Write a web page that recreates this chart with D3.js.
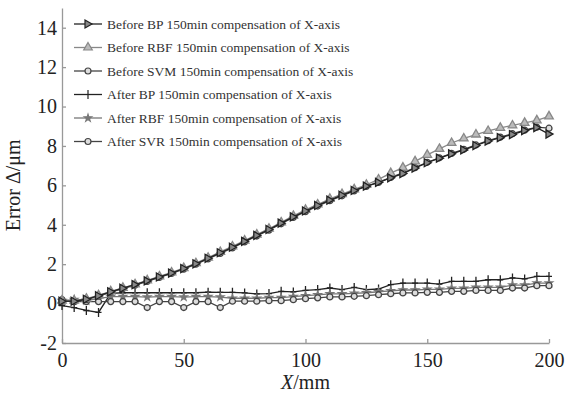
<!DOCTYPE html>
<html lang="en">
<head>
<meta charset="UTF-8">
<title>Error before and after compensation</title>
<script src="https://d3js.org/d3.v7.min.js"></script>
<style>
    body { margin: 0; background: #fff; }
    svg text { font-family: "Liberation Serif", "Times New Roman", serif; }
    .axis path, .axis line { stroke: #999; stroke-width: 1.3px; }
    .axis text { font-size: 20px; fill: #222; }
    .legend text { font-size: 13.5px; fill: #333; }
</style>
</head>
<body>
<div id="chart"></div>
<script>
    // X positions, mm
    const xs = d3.range(0, 201, 5);

    const beforeBP = [0.12, 0.12, 0.22, 0.40, 0.60, 0.78, 0.96, 1.15, 1.35, 1.55, 1.78, 2.02, 2.30, 2.58, 2.86, 3.16, 3.46, 3.76, 4.08, 4.40, 4.70,
        4.98, 5.25, 5.50, 5.74, 5.96, 6.15, 6.38, 6.60, 6.88, 7.15, 7.38, 7.60, 7.80, 8.02, 8.25, 8.42, 8.58, 8.78, 8.93, 8.60];
    const beforeRBF = [0.15, 0.15, 0.25, 0.42, 0.62, 0.80, 0.98, 1.18, 1.38, 1.58, 1.80, 2.05, 2.33, 2.62, 2.90, 3.20, 3.50, 3.80, 4.12, 4.45, 4.76,
        5.03, 5.32, 5.56, 5.80, 6.03, 6.30, 6.62, 6.90, 7.22, 7.55, 7.85, 8.15, 8.38, 8.58, 8.76, 8.92, 9.04, 9.17, 9.30, 9.50];
    const beforeSVM = [0.20, 0.10, 0.20, 0.38, 0.58, 0.76, 0.94, 1.13, 1.33, 1.53, 1.75, 2.00, 2.27, 2.55, 2.83, 3.13, 3.43, 3.73, 4.05, 4.37, 4.67,
        4.95, 5.22, 5.47, 5.72, 5.95, 6.15, 6.40, 6.63, 6.90, 7.17, 7.40, 7.62, 7.83, 8.05, 8.27, 8.45, 8.62, 8.80, 8.95, 8.90];
    const afterBP = [-0.10, -0.20, -0.35, -0.45, 0.52, 0.55, 0.55, 0.55, 0.55, 0.55, 0.55, 0.55, 0.58, 0.57, 0.57, 0.54, 0.49, 0.51, 0.62, 0.59, 0.67,
        0.71, 0.79, 0.71, 0.82, 0.71, 0.74, 0.96, 1.04, 1.04, 1.04, 0.99, 1.13, 1.13, 1.13, 1.21, 1.21, 1.30, 1.25, 1.38, 1.38];
    const afterRBF = [0.15, 0.20, 0.15, 0.25, 0.35, 0.35, 0.35, 0.33, 0.35, 0.35, 0.33, 0.35, 0.35, 0.33, 0.27, 0.27, 0.27, 0.30, 0.30, 0.35, 0.40,
        0.44, 0.49, 0.49, 0.52, 0.55, 0.60, 0.65, 0.69, 0.69, 0.72, 0.72, 0.77, 0.77, 0.82, 0.82, 0.82, 0.94, 0.94, 1.04, 1.04];
    const afterSVR = [0.12, 0.10, 0.10, 0.10, 0.10, 0.10, 0.10, -0.20, 0.10, 0.10, -0.20, 0.10, 0.10, -0.20, 0.12, 0.12, 0.12, 0.15, 0.15, 0.20, 0.25,
        0.29, 0.34, 0.34, 0.37, 0.40, 0.45, 0.50, 0.54, 0.54, 0.57, 0.57, 0.62, 0.62, 0.67, 0.67, 0.67, 0.79, 0.79, 0.91, 0.91];

    const xTicks = [0, 50, 100, 150, 200];
    const yTicks = [-2, 0, 2, 4, 6, 8, 10, 12, 14];

    const series = [
        {name: "After BP 150min compensation of X-axis", values: afterBP, color: "#222", marker: "plus"},
        {name: "After RBF 150min compensation of X-axis", values: afterRBF, color: "#777", marker: "star"},
        {name: "After SVR 150min compensation of X-axis", values: afterSVR, color: "#444", marker: "circle"},
        {name: "Before SVM 150min compensation of X-axis", values: beforeSVM, color: "#444", marker: "circle"},
        {name: "Before RBF 150min compensation of X-axis", values: beforeRBF, color: "#888", marker: "triangle"},
        {name: "Before BP 150min compensation of X-axis", values: beforeBP, color: "#222", marker: "right"}
    ];
    const legendOrder = [5, 4, 3, 0, 1, 2];

    const W = 573, H = 394;
    const margin = {top: 8, right: 24, bottom: 51, left: 62};
    const width = W - margin.left - margin.right;
    const height = H - margin.top - margin.bottom;

    const svg = d3.select("#chart").append("svg")
        .attr("width", W)
        .attr("height", H);
    const g = svg.append("g")
        .attr("transform", "translate(" + margin.left + "," + margin.top + ")");

    const x = d3.scaleLinear().domain([0, 200]).range([0, width]);
    const y = d3.scaleLinear().domain([-2, 15]).range([height, 0]);

    // axes, ticks pointing inward
    g.append("g")
        .attr("class", "axis")
        .attr("transform", "translate(0," + height + ")")
        .call(d3.axisBottom(x).tickValues(xTicks).tickSize(-4).tickPadding(7).tickSizeOuter(0))
        .selectAll("text").attr("dy", "0.85em");
    g.append("g")
        .attr("class", "axis")
        .call(d3.axisLeft(y).tickValues(yTicks).tickFormat(d => String(d)).tickSize(-4).tickPadding(5).tickSizeOuter(0));

    function markerPath(type) {
        if (type === "plus") return "M0,-4.5V4.5M-3,0H3";
        if (type === "star") return d3.symbol(d3.symbolStar, 16)();
        if (type === "circle") return d3.symbol(d3.symbolCircle, 28)();
        if (type === "triangle") return d3.symbol(d3.symbolTriangle, 32)();
        if (type === "right") return "M-3,-4L4,0L-3,4Z";
    }
    function markerFill(s) {
        if (s.marker === "star") return s.color;
        if (s.marker === "right") return "#888";
        if (s.marker === "triangle") return "#bbb";
        if (s.marker === "circle") return "#ddd";
        return "none";
    }

    const line = d3.line()
        .x((d, i) => x(xs[i]))
        .y(d => y(d));

    series.forEach(s => {
        g.append("path")
            .datum(s.values)
            .attr("fill", "none")
            .attr("stroke", s.color)
            .attr("stroke-width", 1.3)
            .attr("d", line);
        g.selectAll(null)
            .data(s.values)
            .enter().append("path")
            .attr("transform", (d, i) => "translate(" + x(xs[i]) + "," + y(d) + ")")
            .attr("d", markerPath(s.marker))
            .attr("fill", markerFill(s))
            .attr("stroke", s.color)
            .attr("stroke-width", 1.3);
    });

    // legend
    const legend = svg.append("g").attr("class", "legend")
        .attr("transform", "translate(74,24)");
    legendOrder.forEach((k, i) => {
        const s = series[k];
        const row = legend.append("g").attr("transform", "translate(0," + (i * 23.5) + ")");
        row.append("line")
            .attr("x1", 0).attr("x2", 28)
            .attr("stroke", s.color).attr("stroke-width", 1.3);
        row.append("path")
            .attr("transform", "translate(14,0)")
            .attr("d", markerPath(s.marker))
            .attr("fill", markerFill(s))
            .attr("stroke", s.color)
            .attr("stroke-width", 1.2);
        row.append("text")
            .attr("x", 33).attr("dy", "0.35em")
            .text(s.name);
    });

    // axis titles
    svg.append("text")
        .attr("transform", "translate(20," + (margin.top + y(6)) + ") rotate(-90)")
        .attr("text-anchor", "middle")
        .style("font-size", "20px")
        .attr("fill", "#222")
        .text("Error Δ/μm");

    const xl = svg.append("text")
        .attr("x", margin.left + x(100))
        .attr("y", 389)
        .attr("text-anchor", "middle")
        .style("font-size", "20px")
        .attr("fill", "#222");
    xl.append("tspan").style("font-style", "italic").text("X");
    xl.append("tspan").text("/mm");
</script>
</body>
</html>
